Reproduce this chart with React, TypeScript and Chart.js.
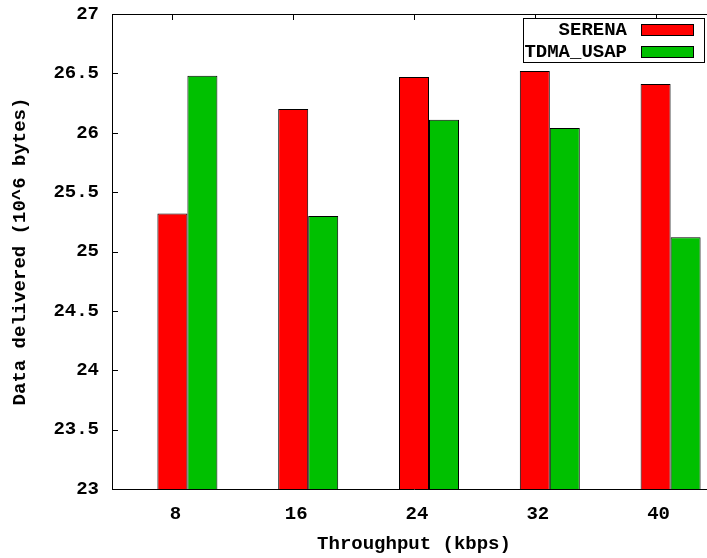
import React, { useEffect, useRef } from "react";
import { Chart, registerables } from "chart.js";

Chart.register(...registerables);

const categories = ["8", "16", "24", "32", "40"];
const serena = [25.32, 26.2, 26.47, 26.52, 26.41];
const tdmaUsap = [26.48, 25.3, 26.11, 26.04, 25.12];
const yTicks = [23, 23.5, 24, 24.5, 25, 25.5, 26, 26.5, 27];
const seriesNames = ["SERENA", "TDMA_USAP"];
const seriesColors = ["#ff0000", "#00c000"];

const FONT = "'Liberation Mono', 'DejaVu Sans Mono', monospace";

const framePlugin = {
  id: "gnuplotFrame",
  afterDatasetsDraw(chart: any) {
    const { ctx, chartArea } = chart;
    const { left, top, right, bottom } = chartArea;
    const yScale = chart.scales.y;
    const xScale = chart.scales.x;
    ctx.save();
    ctx.strokeStyle = "#000";
    ctx.lineWidth = 1;
    ctx.beginPath();
    ctx.rect(Math.round(left) + 0.5, Math.round(top) + 0.5, Math.round(right - left), Math.round(bottom - top));
    ctx.stroke();
    ctx.beginPath();
    yTicks.forEach((v) => {
      const y = Math.round(yScale.getPixelForValue(v)) + 0.5;
      ctx.moveTo(left, y);
      ctx.lineTo(left + 6, y);
      ctx.moveTo(right, y);
      ctx.lineTo(right - 6, y);
    });
    categories.forEach((_, i) => {
      const x = Math.round(xScale.getPixelForValue(i)) + 0.5;
      ctx.moveTo(x, top);
      ctx.lineTo(x, top + 6);
    });
    ctx.stroke();
    ctx.restore();
  },
  afterDraw(chart: any) {
    const { ctx } = chart;
    ctx.save();
    const bx = 523, by = 18, bw = 181, bh = 44;
    ctx.fillStyle = "#fff";
    ctx.fillRect(bx, by, bw, bh);
    ctx.strokeStyle = "#000";
    ctx.lineWidth = 1;
    ctx.strokeRect(bx + 0.5, by + 0.5, bw, bh);
    ctx.font = `bold 19px ${FONT}`;
    ctx.textAlign = "right";
    ctx.textBaseline = "middle";
    seriesNames.forEach((name, i) => {
      const cy = 30 + i * 22;
      ctx.fillStyle = "#000";
      ctx.fillText(name, 627, cy);
      ctx.fillStyle = seriesColors[i];
      ctx.fillRect(641, cy - 6, 52, 11);
      ctx.strokeStyle = "#000";
      ctx.strokeRect(641.5, cy - 5.5, 52, 11);
    });
    ctx.restore();
  },
};

export default function App() {
  const ref = useRef<HTMLCanvasElement | null>(null);

  useEffect(() => {
    if (!ref.current) return;
    const chart = new Chart(ref.current, {
      type: "bar",
      data: {
        labels: categories,
        datasets: [
          {
            label: "",
            data: categories.map(() => null),
            backgroundColor: "rgba(0,0,0,0)",
            borderWidth: 0,
          },
          {
            label: seriesNames[0],
            data: serena,
            backgroundColor: seriesColors[0],
            borderColor: "#000",
            borderWidth: 1,
            borderSkipped: false,
          },
          {
            label: seriesNames[1],
            data: tdmaUsap,
            backgroundColor: seriesColors[1],
            borderColor: "#000",
            borderWidth: 1,
            borderSkipped: false,
          },
        ],
      },
      options: {
        responsive: false,
        animation: false,
        devicePixelRatio: 1,
        datasets: {
          bar: { categoryPercentage: 0.745, barPercentage: 1.0 },
        },
        layout: { padding: { left: 0, top: 14, right: 4, bottom: 0 } },
        plugins: {
          legend: { display: false },
          tooltip: { enabled: false },
        },
        scales: {
          x: {
            type: "category",
            offset: true,
            grid: { display: false, drawTicks: false },
            border: { display: false },
            ticks: {
              color: "#000",
              font: { family: FONT, size: 19, weight: "bold" },
              padding: 14,
              labelOffset: 3,
            },
            title: {
              display: true,
              text: "Throughput (kbps)",
              color: "#000",
              font: { family: FONT, size: 19, weight: "bold" },
              padding: { top: 0, bottom: 2 },
            },
            afterFit: (s: any) => {
              s.height = 69;
              s.paddingLeft = 0;
              s.paddingRight = 0;
            },
          },
          y: {
            min: 23,
            max: 27,
            grid: { display: false, drawTicks: false },
            border: { display: false },
            afterBuildTicks: (s: any) => {
              s.ticks = yTicks.map((v) => ({ value: v }));
            },
            ticks: {
              color: "#000",
              font: { family: FONT, size: 19, weight: "bold" },
              padding: 13,
              callback: (v: any) => String(v),
            },
            title: {
              display: true,
              text: "Data delivered (10^6 bytes)",
              color: "#000",
              font: { family: FONT, size: 19, weight: "bold" },
              padding: { top: 9, bottom: 0 },
            },
            afterFit: (s: any) => {
              s.width = 112;
              s.paddingTop = 0;
              s.paddingBottom = 0;
            },
          },
        },
      },
      plugins: [framePlugin],
    });
    return () => chart.destroy();
  }, []);

  return (
    <div
      style={{
        position: "fixed",
        left: 0,
        top: 0,
        width: 707,
        height: 558,
        overflow: "hidden",
        background: "#fff",
      }}
    >
      <canvas ref={ref} width={720} height={558} style={{ display: "block" }} />
    </div>
  );
}
